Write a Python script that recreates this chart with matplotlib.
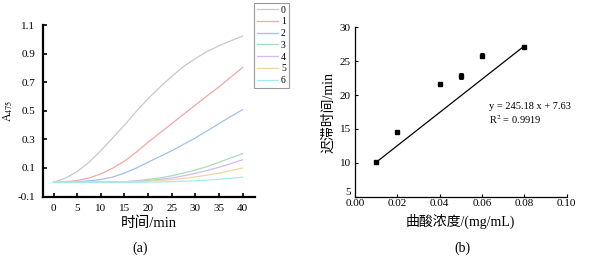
import matplotlib
matplotlib.use("Agg")
import matplotlib.pyplot as plt
import numpy as np

plt.rcParams['font.family'] = ['Liberation Serif', 'Noto Sans CJK SC']
plt.rcParams['mathtext.fontset'] = 'stix'

# ---- panel (a) data ----
time_min = [0, 2.5, 5, 7.5, 10, 12.5, 15, 17.5, 20, 22.5, 25, 27.5, 30, 32.5, 35, 37.5, 40]
series_labels = ['0', '1', '2', '3', '4', '5', '6']
a0 = [0, 0.028, 0.075, 0.14, 0.22, 0.31, 0.40, 0.495, 0.585, 0.665, 0.74, 0.81, 0.865, 0.915, 0.955, 0.99, 1.023]
a1 = [0, 0.003, 0.012, 0.03, 0.058, 0.098, 0.148, 0.21, 0.28, 0.345, 0.41, 0.475, 0.54, 0.605, 0.667, 0.735, 0.803]
a2 = [0, 0.001, 0.004, 0.01, 0.019, 0.036, 0.064, 0.099, 0.14, 0.18, 0.22, 0.265, 0.31, 0.36, 0.41, 0.46, 0.508]
a3 = [0, 0, 0, 0, 0.001, 0.002, 0.004, 0.01, 0.02, 0.03, 0.045, 0.065, 0.085, 0.11, 0.14, 0.17, 0.20]
a4 = [0, 0, 0, 0, 0.001, 0.002, 0.003, 0.007, 0.012, 0.02, 0.03, 0.045, 0.062, 0.082, 0.105, 0.13, 0.157]
a5 = [0, 0, 0, 0, 0, 0.001, 0.002, 0.004, 0.008, 0.012, 0.018, 0.027, 0.037, 0.05, 0.064, 0.081, 0.10]
a6 = [0, 0, 0, 0, 0, 0, 0, 0, 0.001, 0.002, 0.004, 0.007, 0.01, 0.015, 0.021, 0.028, 0.036]
series_colors = ['#c8c8c8', '#f5a6a6', '#9fc0f2', '#a9dcbc', '#d6b9f0', '#f0d69e', '#9ef0ee']

# ---- panel (b) data ----
conc = [0.01, 0.02, 0.04, 0.05, 0.06, 0.08]
lag_time = [10.08, 14.6, 21.6, 22.8, 25.8, 27.1]
lag_err = [0.1, 0.15, 0.15, 0.45, 0.35, 0.15]
slope, intercept = 245.18, 7.63

fig = plt.figure(figsize=(5.9, 2.61), dpi=100)

# Panel (a)
ax1 = fig.add_axes([0.0723, 0.247, 0.3597, 0.657])
for vals, lab, col in zip([a0, a1, a2, a3, a4, a5, a6], series_labels, series_colors):
    ax1.plot(time_min, vals, color=col, lw=0.9, label=lab)
ax1.set_xlim(-2.3, 42.6)
ax1.set_ylim(-0.1, 1.1)
ax1.set_xticks(np.arange(0, 41, 5))
ax1.set_yticks([-0.1, 0.1, 0.3, 0.5, 0.7, 0.9, 1.1])
ax1.set_yticklabels(['-0.1', '0.1', '0.3', '0.5', '0.7', '0.9', '1.1'])
for s in ['top', 'right']:
    ax1.spines[s].set_visible(False)
for s in ['left', 'bottom']:
    ax1.spines[s].set_linewidth(1.6)
ax1.tick_params(direction='in', length=3, width=1.2, labelsize=8, pad=5.5)
ax1.set_xlabel('时间/min', fontsize=10.5, labelpad=2)
ax1.set_ylabel('A$_{475}$', fontsize=8.5, labelpad=2)
leg = ax1.legend(loc='upper left', bbox_to_anchor=(0.995, 1.13), fontsize=7,
                 frameon=True, fancybox=False, handlelength=2.2, handletextpad=0.3,
                 labelspacing=0.28, borderpad=0.3, borderaxespad=0)
leg.get_frame().set_edgecolor('#808080')
leg.get_frame().set_linewidth(0.8)

fig.text(0.237, 0.05, '(a)', fontsize=10, ha='center', va='center')

# Panel (b)
ax2 = fig.add_axes([0.6017, 0.2464, 0.3585, 0.6486])
ax2.errorbar(conc, lag_time, yerr=lag_err, fmt='s', color='black', ms=3,
             capsize=1.2, elinewidth=0.7, capthick=0.7)
xfit = np.array([min(conc), max(conc)])
ax2.plot(xfit, slope * xfit + intercept, color='black', lw=0.9)
ax2.set_xlim(0, 0.1)
ax2.set_ylim(5, 30)
ax2.set_xticks([0.0, 0.02, 0.04, 0.06, 0.08, 0.10])
ax2.set_xticklabels(['0.00', '0.02', '0.04', '0.06', '0.08', '0.10'])
ax2.set_yticks([5, 10, 15, 20, 25, 30])
for s in ['top', 'right']:
    ax2.spines[s].set_visible(False)
for s in ['left', 'bottom']:
    ax2.spines[s].set_linewidth(0.9)
ax2.tick_params(direction='in', length=2.5, width=0.8, labelsize=8)
ax2.tick_params(axis='x', pad=2)
ax2.tick_params(axis='y', pad=3)
# nudge the lowest y label up so it sits above "0.00" like the original
ax2.get_yticklabels()[0].set_va('bottom')
ax2.set_xlabel('曲酸浓度/(mg/mL)', fontsize=10, labelpad=4)
ax2.set_ylabel('迟滞时间/min', fontsize=10, labelpad=3)
ax2.text(0.0635, 18.0, 'y = 245.18 x + 7.63', fontsize=7.5)
ax2.text(0.0635, 15.8, 'R$^2$ = 0.9919', fontsize=7.5)

fig.text(0.783, 0.05, '(b)', fontsize=10, ha='center', va='center')

fig.savefig('out.png', dpi=100)
